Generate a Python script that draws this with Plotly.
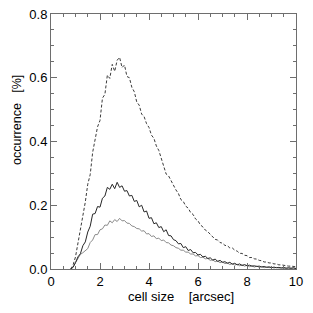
import plotly.graph_objects as go

# bin centres (arcsec)
cell_size = [round(0.8 + 0.1 * i, 1) for i in range(93)]

# dashed curve: occurrence [%]
occ_dashed = [
    0.000, 0.012, 0.038, 0.080, 0.115, 0.162, 0.210, 0.266, 0.296, 0.366,
    0.404, 0.446, 0.466, 0.536, 0.548, 0.608, 0.598, 0.642, 0.620, 0.655,
    0.664, 0.632, 0.640, 0.604, 0.600, 0.570, 0.556, 0.524, 0.514, 0.486,
    0.478, 0.456, 0.444, 0.420, 0.410, 0.386, 0.372, 0.346, 0.322, 0.298,
    0.292, 0.276, 0.262, 0.248, 0.237, 0.218, 0.212, 0.197, 0.191, 0.177,
    0.171, 0.157, 0.151, 0.138, 0.132, 0.122, 0.117, 0.108, 0.102, 0.093,
    0.091, 0.083, 0.081, 0.074, 0.073, 0.066, 0.066, 0.059, 0.056, 0.049,
    0.049, 0.043, 0.042, 0.036, 0.036, 0.032, 0.031, 0.027, 0.026, 0.022,
    0.022, 0.019, 0.019, 0.016, 0.016, 0.013, 0.013, 0.011, 0.011, 0.009,
    0.009, 0.007, 0.007,
]

# dark solid curve
occ_dark = [
    0.000, 0.005, 0.020, 0.038, 0.048, 0.073, 0.085, 0.116, 0.134, 0.172,
    0.174, 0.196, 0.194, 0.222, 0.229, 0.256, 0.250, 0.266, 0.252, 0.272,
    0.256, 0.261, 0.244, 0.246, 0.229, 0.231, 0.212, 0.215, 0.195, 0.200,
    0.179, 0.182, 0.159, 0.161, 0.142, 0.145, 0.130, 0.133, 0.117, 0.123,
    0.105, 0.104, 0.092, 0.089, 0.079, 0.080, 0.067, 0.070, 0.058, 0.061,
    0.051, 0.052, 0.044, 0.046, 0.038, 0.040, 0.033, 0.035, 0.028, 0.031,
    0.024, 0.027, 0.021, 0.023, 0.018, 0.021, 0.015, 0.018, 0.013, 0.016,
    0.011, 0.014, 0.010, 0.012, 0.009, 0.010, 0.008, 0.009, 0.006, 0.008,
    0.005, 0.007, 0.004, 0.006, 0.004, 0.005, 0.003, 0.005, 0.002, 0.004,
    0.002, 0.004, 0.001,
]

# grey solid curve
occ_grey = [
    0.000, 0.006, 0.020, 0.034, 0.046, 0.051, 0.057, 0.064, 0.083, 0.091,
    0.108, 0.108, 0.123, 0.126, 0.138, 0.137, 0.151, 0.145, 0.155, 0.149,
    0.159, 0.151, 0.152, 0.144, 0.143, 0.135, 0.133, 0.127, 0.126, 0.119,
    0.120, 0.110, 0.111, 0.102, 0.104, 0.095, 0.097, 0.089, 0.091, 0.083,
    0.082, 0.075, 0.073, 0.067, 0.065, 0.059, 0.059, 0.053, 0.053, 0.047,
    0.047, 0.041, 0.042, 0.036, 0.037, 0.032, 0.033, 0.027, 0.029, 0.023,
    0.025, 0.020, 0.022, 0.017, 0.019, 0.014, 0.017, 0.012, 0.015, 0.010,
    0.013, 0.009, 0.012, 0.007, 0.010, 0.006, 0.009, 0.005, 0.008, 0.004,
    0.007, 0.004, 0.006, 0.003, 0.005, 0.003, 0.004, 0.002, 0.004, 0.002,
    0.003, 0.002, 0.002,
]

x_ticks = [0, 2, 4, 6, 8, 10]
y_ticks = [0.0, 0.2, 0.4, 0.6, 0.8]
y_tick_text = ["0.0", "0.2", "0.4", "0.6", "0.8"]

FONT = "Liberation Sans, Arial, sans-serif"
AXIS_COL = "#6e6e6e"

# the page body adds an 8px margin; the figure is sized to fit the window
OFF = 8
W = H = 297
PL, PR, PT, PB = 51 - OFF, 296 - OFF, 14 - OFF, 269 - OFF  # plot box in fig px
pw, ph = PR - PL, PB - PT

fig = go.Figure()
fig.add_trace(go.Scatter(x=cell_size, y=occ_dashed, mode="lines",
                         line=dict(color="#3a3a3a", width=1, dash="3px,2px")))
fig.add_trace(go.Scatter(x=cell_size, y=occ_grey, mode="lines",
                         line=dict(color="#8a8a8a", width=1)))
fig.add_trace(go.Scatter(x=cell_size, y=occ_dark, mode="lines",
                         line=dict(color="#262626", width=1)))

axis_common = dict(
    showgrid=False, zeroline=False, showline=True, linecolor=AXIS_COL,
    linewidth=1, mirror="ticks", ticks="inside", ticklen=6, tickwidth=1,
    tickcolor=AXIS_COL, tickfont=dict(family=FONT, size=13, color="#000"),
    ticklabeloverflow="allow",
)

fig.update_xaxes(range=[0, 10], tickvals=x_ticks,
                 minor=dict(dtick=0.5, ticks="inside", ticklen=3,
                            tickcolor=AXIS_COL, showgrid=False),
                 **axis_common)
fig.update_yaxes(range=[0, 0.8], tickvals=y_ticks, ticktext=y_tick_text,
                 minor=dict(dtick=0.05, ticks="inside", ticklen=3,
                            tickcolor=AXIS_COL, showgrid=False),
                 **axis_common)

fig.update_layout(
    width=W, height=H,
    margin=dict(l=PL, r=W - PR, t=PT, b=H - PB, autoexpand=False),
    paper_bgcolor="white", plot_bgcolor="white",
    showlegend=False,
    annotations=[
        dict(text="cell size\u00a0\u00a0\u00a0\u00a0[arcsec]", xref="paper", yref="paper",
             x=(180.5 - 51) / pw, y=-(296 - 269) / ph, xanchor="center",
             yanchor="middle", showarrow=False,
             font=dict(family=FONT, size=13, color="#000")),
        dict(text="occurrence\u00a0\u00a0\u00a0[%]", xref="paper", yref="paper",
             x=-PL / pw, y=(269 - 120) / ph, xanchor="left",
             yanchor="middle", textangle=-90, showarrow=False,
             font=dict(family=FONT, size=12.5, color="#000")),
    ],
)

fig.write_html("out.html")
